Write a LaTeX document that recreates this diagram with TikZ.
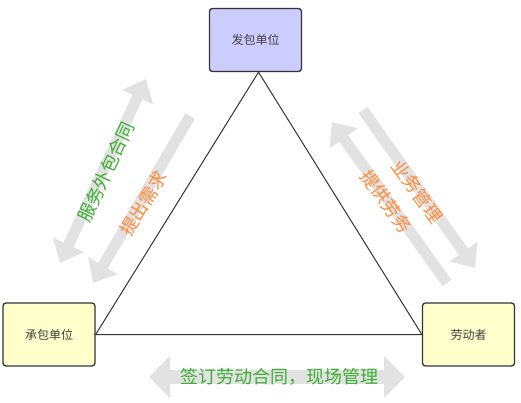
\documentclass[tikz,border=0pt]{standalone}
\usepackage{fontspec}
\usetikzlibrary{arrows.meta}
\newfontfamily\cjk{Noto Sans CJK SC}
\definecolor{edge}{HTML}{333333}
\definecolor{unitblue}{HTML}{CCCCFF}
\definecolor{unityellow}{HTML}{FFFFCC}
\definecolor{flow}{HTML}{E2E2E2}
\definecolor{grn}{HTML}{3CAE32}
\definecolor{org}{HTML}{FF8A3A}

\begin{document}
\begin{tikzpicture}[x=1pt, y=-1pt,
  unit/.style={draw=edge, line width=1.3pt, rounded corners=3pt, minimum width=92pt,
    minimum height=63pt, inner sep=0pt, font=\cjk\fontsize{12}{12}\selectfont, text=black!75},
  flowline/.style={draw=flow, line width=11pt},
  bigflow/.style={draw=flow, line width=14pt},
  lbl/.style={inner sep=0pt, font=\cjk\fontsize{18}{18}\selectfont}]
\useasboundingbox (0,0) rectangle (521,402);

\node[unit, fill=unitblue] (fb) at (255.5,40) {发包单位};
\node[unit, fill=unityellow] (cb) at (49,334.5) {承包单位};
\node[unit, fill=unityellow] (ldz) at (468.5,334.5) {劳动者};

\draw[edge, line width=1pt] ([xshift=3pt]fb.south) -- (cb.east) -- (ldz.west) -- cycle;

% gray flow arrows
\coordinate (lo1) at (60,263);  \coordinate (lo2) at (146,79);
\coordinate (li1) at (190,116); \coordinate (li2) at (93,283);
\coordinate (ro1) at (363,110); \coordinate (ro2) at (475,268);
\coordinate (ri1) at (447,283); \coordinate (ri2) at (332,122);
\coordinate (bo1) at (149,377); \coordinate (bo2) at (405,377);
\draw[flowline, {Triangle[width=33pt,length=20pt]}-{Triangle[width=33pt,length=20pt]}] (lo1) -- (lo2);
\draw[flowline, -{Triangle[width=33pt,length=20pt]}] (li1) -- (li2);
\draw[flowline, -{Triangle[width=33pt,length=20pt]}] (ro1) -- (ro2);
\draw[flowline, -{Triangle[width=33pt,length=20pt]}] (ri1) -- (ri2);
\draw[bigflow, {Triangle[width=41pt,length=21pt]}-{Triangle[width=41pt,length=21pt]}] (bo1) -- (bo2);

\node[lbl, text=grn, rotate=65] (wb) at (106,172) {服务外包合同};
\node[lbl, text=org, rotate=58] (xq) at (143.5,203.5) {提出需求};
\node[lbl, text=org, rotate=-54] (gl) at (417.5,191.5) {业务管理};
\node[lbl, text=org, rotate=-54] (lw) at (386.5,201.5) {提供劳务};
\node[lbl, text=grn] (ht) at (279.5,377) {签订劳动合同，现场管理};
\end{tikzpicture}
\end{document}
